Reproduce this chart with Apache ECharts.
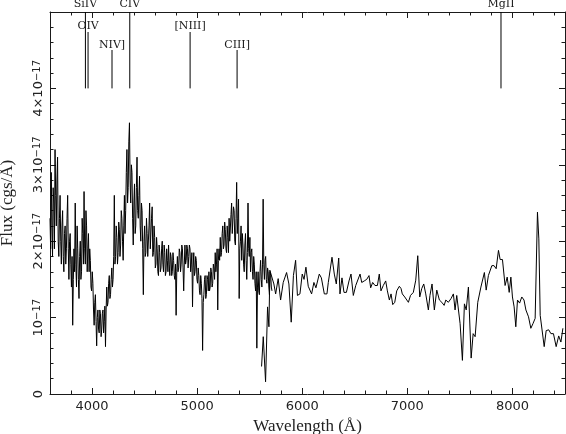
<!DOCTYPE html>
<html>
<head>
<meta charset="utf-8">
<script src="https://cdn.jsdelivr.net/npm/echarts@6.0.0/dist/echarts.min.js"></script>
<style>
  html, body { margin: 0; padding: 0; background: #fff; }
  #chart { width: 566px; height: 434px; }
</style>
</head>
<body>
<div id="chart"></div>
<script>
// blue arm: sampled every 6 A from 3600 A, flux in units of 1e-17 cgs/A
var blueStart = 3600;
var blueStep = 6;
var blueFlux = [
  2.3, 1.9, 2.9, 2.2, 1.8, 2.7, 2.5, 1.9, 3.2, 2.6,
  2.2, 2.8, 3.1, 2.0, 1.8, 2.3, 2.6, 2.0, 1.7, 2.2,
  2.4, 1.8, 1.6, 2.1, 2.2, 1.7, 1.9, 2.3, 2.6, 1.9,
  1.5, 2.0, 2.1, 1.7, 1.4, 1.8, 0.9, 1.5, 1.9, 1.6,
  2.5, 1.7, 1.4, 2.2, 1.9, 1.5, 1.25, 1.8, 2.0, 1.5,
  1.6, 2.3, 2.1, 1.7, 2.65, 1.9, 1.7, 2.4, 2.2, 1.6,
  1.9, 2.1, 1.6, 1.9, 1.75, 1.4, 1.35, 1.6, 1.45, 1.1,
  0.9, 1.2, 1.3, 0.95, 0.63, 1.0, 1.1, 0.85, 0.8, 1.1,
  1.05, 0.75, 0.85, 1.05, 1.1, 0.8, 0.95, 1.15, 0.62, 1.1,
  1.4, 1.15, 1.2, 1.45, 1.55, 1.25, 1.3, 1.5, 1.65, 1.4,
  1.5, 1.8, 2.6, 1.7, 1.8, 2.2, 2.05, 1.7, 1.85, 2.25,
  2.15, 1.8, 1.95, 2.4, 2.3, 2.0, 1.75, 2.2, 2.6, 2.1,
  2.4, 2.9, 3.2, 2.5, 2.7, 3.3, 3.55, 2.8, 2.5, 3.0,
  2.9, 2.3, 1.95, 2.5, 2.75, 2.1, 2.2, 2.7, 3.1, 2.4,
  2.3, 2.6, 2.85, 2.2, 2.0, 2.5, 2.4, 1.9, 1.3, 2.0,
  2.2, 1.8, 1.85, 2.3, 2.1, 1.8, 1.8, 2.2, 2.5, 1.9,
  1.9, 2.3, 2.45, 1.8, 1.85, 2.2, 2.05, 1.65, 1.7, 2.05,
  1.9, 1.6, 1.55, 1.95, 1.85, 1.6, 1.65, 1.9, 2.0, 1.7,
  1.6, 1.95, 1.85, 1.55, 1.6, 1.9, 1.75, 1.6, 1.95, 1.7,
  1.55, 1.85, 1.8, 1.55, 1.6, 1.85, 1.75, 1.55, 1.5, 1.7,
  1.03, 1.6, 1.8, 1.6, 1.65, 1.9, 1.85, 1.6, 1.7, 1.95,
  1.9, 1.65, 1.35, 1.7, 1.95, 1.7, 1.75, 1.95, 1.9, 1.65,
  1.8, 1.95, 1.9, 1.6, 1.7, 1.85, 1.14, 1.65, 1.85, 1.55,
  1.6, 1.8, 1.75, 1.5, 1.45, 1.65, 1.55, 1.35, 1.3, 1.55,
  1.45, 1.25, 0.57, 1.2, 1.3, 1.5, 1.55, 1.25, 1.3, 1.55,
  1.5, 1.35, 1.6, 1.35, 1.4, 1.65, 1.6, 1.4, 1.45, 1.7,
  1.65, 1.5, 1.85, 1.6, 1.7, 1.9, 1.1, 1.75, 1.9, 1.75,
  2.05, 1.8, 1.85, 2.1, 2.2, 1.9, 1.95, 2.25, 2.15, 1.9,
  1.85, 2.2, 2.05, 1.85, 2.3, 2.0, 2.0, 2.35, 2.5, 2.1,
  2.1, 2.45, 2.4, 2.0, 1.95, 2.3, 2.77, 2.1, 2.3, 2.55,
  1.25, 1.9, 2.0, 2.2, 1.75, 2.1, 1.95, 1.7, 1.6, 1.95,
  2.1, 1.75, 1.5, 1.85, 2.5, 1.9, 1.8, 2.05, 1.6, 1.85,
  1.9, 1.6, 1.5, 1.8, 1.7, 1.45, 1.35, 1.6, 0.6, 1.4,
  1.6, 1.35, 1.3, 1.6, 1.75, 1.5, 1.4, 1.7, 2.55, 1.7,
  1.5, 1.75, 1.8, 1.5, 1.45, 1.65, 1.6, 1.4, 1.3, 1.6,
  1.55, 1.4, 1.35
];

// red arm
var redWave = [
  5613, 5629, 5651, 5670, 5683, 5692, 5708, 5730, 5747, 5771,
  5794, 5819, 5851, 5873, 5895, 5916, 5937, 5954, 5978, 6000,
  6017, 6035, 6057, 6089, 6111, 6130, 6162, 6182, 6210, 6235,
  6248, 6265, 6283, 6305, 6324, 6347, 6359, 6378, 6397, 6420,
  6445, 6464, 6486, 6509, 6528, 6550, 6566, 6590, 6613, 6635,
  6651, 6670, 6692, 6715, 6733, 6749, 6771, 6794, 6810, 6829,
  6845, 6861, 6880, 6899, 6924, 6940, 6952, 6975, 7010, 7030,
  7057, 7080, 7099, 7118, 7137, 7156, 7175, 7200, 7215, 7235,
  7257, 7280, 7305, 7328, 7350, 7366, 7390, 7416, 7438, 7454,
  7470, 7486, 7502, 7524, 7543, 7560, 7581, 7607, 7626, 7645,
  7670, 7700, 7733, 7750, 7771, 7804, 7825, 7845, 7867, 7883,
  7905, 7930, 7950, 7969, 7985, 8000, 8016, 8032, 8048, 8068,
  8089, 8110, 8128, 8153, 8175, 8195, 8216, 8238, 8251, 8264,
  8283, 8302, 8321, 8345, 8366, 8390, 8416, 8440, 8461, 8480
];
var redFlux = [
  0.36, 0.75, 0.16, 1.14, 0.88, 1.62, 1.64, 1.44, 1.31, 1.51,
  1.23, 1.46, 1.59, 1.44, 0.94, 1.55, 1.75, 1.29, 1.31, 1.57,
  1.50, 1.66, 1.41, 1.31, 1.46, 1.39, 1.57, 1.52, 1.31, 1.31,
  1.46, 1.46, 1.79, 1.57, 1.44, 1.78, 1.31, 1.52, 1.33, 1.33,
  1.48, 1.57, 1.29, 1.42, 1.44, 1.57, 1.46, 1.48, 1.50, 1.55,
  1.39, 1.46, 1.42, 1.42, 1.57, 1.35, 1.42, 1.48, 1.35, 1.23,
  1.31, 1.17, 1.20, 1.35, 1.41, 1.38, 1.31, 1.27, 1.20, 1.29,
  1.33, 1.49, 1.81, 1.27, 1.38, 1.44, 1.31, 1.10, 1.29, 1.44,
  1.10, 1.36, 1.23, 1.20, 1.16, 1.23, 1.20, 1.25, 1.31, 1.10,
  1.29, 1.31, 0.92, 0.44, 1.18, 1.10, 1.40, 0.47, 0.79, 0.75,
  1.20, 1.40, 1.59, 1.36, 1.55, 1.68, 1.68, 1.64, 1.88, 1.76,
  1.76, 1.42, 1.53, 1.33, 1.53, 1.27, 1.14, 0.88, 1.23, 1.19,
  1.27, 1.23, 1.10, 1.01, 0.86, 0.92, 0.99, 2.38, 2.03, 1.03,
  1.01, 0.62, 0.83, 0.84, 0.79, 0.79, 0.62, 0.76, 0.68, 0.86
];

// emission line identifications
var idWave = [3937, 3962, 4190, 4359, 4933, 5380, 7891];
var idName = ['SiIV', 'OIV', 'NIV]', 'CIV', '[NIII]', 'CIII]', 'MgII'];

var xTickValues = [4000, 5000, 6000, 7000, 8000];
var yTickText = ['0', '10', '2×10', '3×10', '4×10'];

var blueData = blueFlux.map(function (f, i) { return [blueStart + i * blueStep, f]; });
var redData = redWave.map(function (w, i) { return [w, redFlux[i]]; });

var ink = '#1a1a1a';
var idFoot = 4;            // ID ticks end at 4e-17
var rowOf = { 'SiIV': 0, 'CIV': 0, 'MgII': 0, 'OIV': 1, '[NIII]': 1, 'NIV]': 2, 'CIII]': 2 };
var rowLineTop = [0, 20, 38];
var rowText = [-7.5, 14, 33.5];

function xAxisPair(pos, withLabels) {
  return [{
    type: 'value', position: pos, min: 3600, max: 8500, interval: 200,
    axisLine: { show: true, lineStyle: { color: ink, width: 1 } },
    axisTick: { show: true, inside: true, length: 3.5, lineStyle: { color: ink } },
    splitLine: { show: false },
    axisLabel: withLabels ? {
      show: true, margin: 6, color: '#222', fontFamily: 'DejaVu Sans', fontSize: 13,
      showMinLabel: false, showMaxLabel: false,
      formatter: function (v) { return xTickValues.indexOf(v) >= 0 ? String(v) : ''; }
    } : { show: false },
    name: withLabels ? 'Wavelength (Å)' : '',
    nameLocation: 'middle', nameGap: 18,
    nameTextStyle: { fontFamily: 'Liberation Serif', fontSize: 17, color: '#222' }
  }, {
    type: 'value', position: pos, min: 3600, max: 8500,
    axisLine: { show: false },
    axisTick: { show: true, inside: true, length: 6, customValues: xTickValues, lineStyle: { color: ink } },
    axisLabel: { show: false },
    splitLine: { show: false }
  }];
}

function yAxisOne(pos, withLabels) {
  return {
    type: 'value', position: pos, min: 0, max: 5, interval: 1,
    axisLine: { show: true, lineStyle: { color: ink, width: 1 } },
    axisTick: { show: true, inside: true, length: 6, lineStyle: { color: ink } },
    minorTick: { show: true, splitNumber: 5, length: 3.5, lineStyle: { color: ink } },
    splitLine: { show: false },
    axisLabel: withLabels ? {
      show: true, rotate: 90, margin: 5, showMaxLabel: false,
      formatter: function (v) {
        var t = yTickText[Math.round(v)];
        if (t === undefined) return '';
        return t === '0' ? '{m|0}' : '{m|' + t + '}{e|−17}';
      },
      rich: {
        m: { fontFamily: 'DejaVu Sans', fontSize: 13, color: '#222', lineHeight: 13, padding: [8, 0, 0, 0], verticalAlign: 'bottom' },
        e: { fontFamily: 'DejaVu Sans', fontSize: 10, color: '#222', lineHeight: 10, verticalAlign: 'top' }
      }
    } : { show: false },
    name: withLabels ? 'Flux (cgs/Å)' : '',
    nameLocation: 'middle', nameGap: 33, nameRotate: 90,
    nameTextStyle: { fontFamily: 'Liberation Serif', fontSize: 17, color: '#222' }
  };
}

var chart = echarts.init(document.getElementById('chart'), null, { renderer: 'canvas' });
chart.setOption({
  animation: false,
  backgroundColor: '#fff',
  grid: { left: 50, right: 1, top: 12, bottom: 40, containLabel: false, outerBoundsMode: 'none' },
  xAxis: xAxisPair('bottom', true).concat(xAxisPair('top', false)),
  yAxis: [yAxisOne('left', true), yAxisOne('right', false)],
  series: [
    {
      type: 'line', xAxisIndex: 0, yAxisIndex: 0, data: blueData,
      showSymbol: false, lineStyle: { color: '#000', width: 1 }, silent: true
    },
    {
      type: 'line', xAxisIndex: 0, yAxisIndex: 0, data: redData,
      showSymbol: false, lineStyle: { color: '#000', width: 1 }, silent: true
    },
    {
      type: 'custom', xAxisIndex: 0, yAxisIndex: 0, clip: false, silent: true,
      data: idWave.map(function (w) { return [w, idFoot]; }),
      encode: { x: 0, y: 1 },
      renderItem: function (params, api) {
        var p = api.coord([api.value(0), api.value(1)]);
        var top = params.coordSys.y;
        var name = idName[params.dataIndex];
        var row = rowOf[name];
        return {
          type: 'group',
          children: [
            { type: 'line', shape: { x1: p[0], y1: top + rowLineTop[row], x2: p[0], y2: p[1] },
              style: { stroke: '#000', lineWidth: 1 } },
            { type: 'text', x: p[0], y: top + rowText[row],
              style: { text: name, fontFamily: 'DejaVu Serif', fontSize: 11, fill: ink,
                       align: 'center', verticalAlign: 'middle' } }
          ]
        };
      }
    }
  ]
});
</script>
</body>
</html>
